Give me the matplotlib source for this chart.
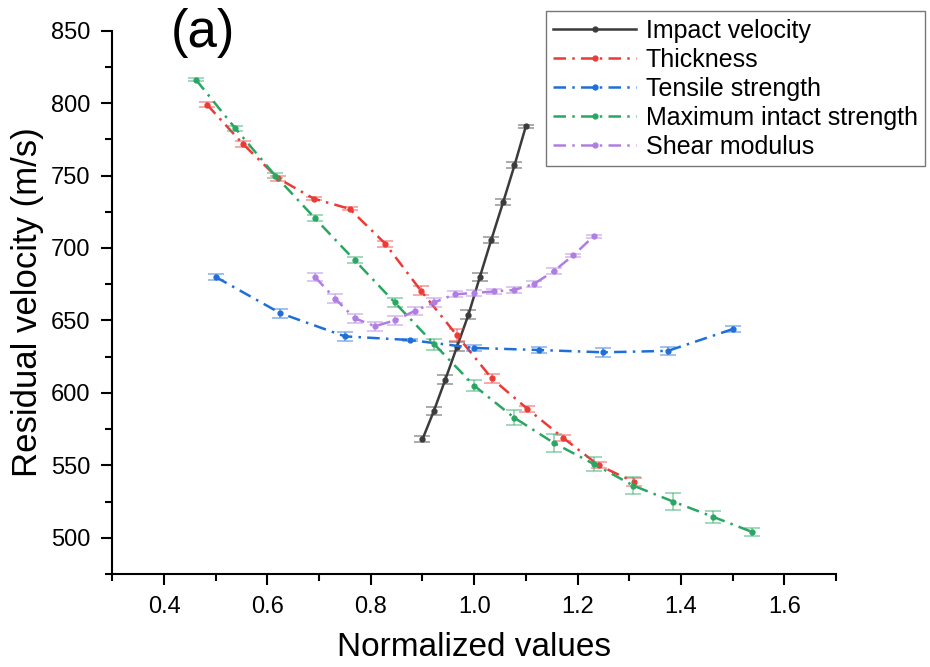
import numpy as np
import matplotlib.pyplot as plt
from matplotlib.ticker import MultipleLocator

plt.rcParams['font.family'] = ['Liberation Sans', 'DejaVu Sans']

# Impact velocity
x_imp = [0.9, 0.922, 0.944, 0.967, 0.989, 1.011, 1.033, 1.056, 1.078, 1.1]
y_imp = [568, 587.5, 609, 632, 654, 680, 705.5, 731.5, 757, 784]
e_imp = [2, 3, 3, 3, 3, 3, 2, 2, 2, 1]

# Thickness
x_thk = [0.483, 0.552, 0.621, 0.690, 0.759, 0.828, 0.897, 0.966, 1.034, 1.103, 1.172, 1.241, 1.310]
y_thk = [799, 772, 748, 734, 727, 703, 670.5, 640, 610, 589, 569, 550, 538.5]
e_thk = [2, 2, 2, 1, 1, 2, 3, 4, 3, 2, 2, 2, 3]

# Tensile strength
x_ten = [0.5, 0.625, 0.75, 0.875, 1.0, 1.125, 1.25, 1.375, 1.5]
y_ten = [680, 655, 639, 636.5, 631, 629.6, 628, 629, 644]
e_ten = [2, 3, 3, 1, 2, 2, 3, 3, 2]

# Maximum intact strength
x_mis = [0.462, 0.538, 0.615, 0.692, 0.769, 0.846, 0.923, 1.0, 1.077, 1.154, 1.231, 1.308, 1.385, 1.462, 1.538]
y_mis = [816, 782.5, 750, 720.5, 691.5, 662.5, 633.5, 605, 583, 565.5, 551, 536, 525, 514.5, 504]
e_mis = [1, 2, 2, 2, 2, 3, 4, 4, 5, 6, 5, 6, 6, 4, 3]

# Shear modulus
x_shr = [0.692, 0.731, 0.769, 0.808, 0.846, 0.885, 0.923, 0.962, 1.0, 1.038, 1.077, 1.115, 1.154, 1.192, 1.231]
y_shr = [680, 665, 651.5, 646, 650, 656.5, 662.5, 668, 669, 670, 671, 675, 684, 695, 708]
e_shr = [3, 3, 3, 3, 3, 3, 3, 2, 2, 2, 2, 2, 2, 1, 1]

x_ticks = [0.4, 0.6, 0.8, 1.0, 1.2, 1.4, 1.6]
x_ticklabels = ['0.4', '0.6', '0.8', '1.0', '1.2', '1.4', '1.6']

dashdot = (0, (5, 2.5, 1, 2.5))
series = [
    (x_imp, y_imp, e_imp, '#3b3b3b', '-', 'Impact velocity'),
    (x_thk, y_thk, e_thk, '#ec3b36', dashdot, 'Thickness'),
    (x_ten, y_ten, e_ten, '#1f6fd8', dashdot, 'Tensile strength'),
    (x_mis, y_mis, e_mis, '#2aa663', dashdot, 'Maximum intact strength'),
    (x_shr, y_shr, e_shr, '#b07ee2', dashdot, 'Shear modulus'),
]

fig = plt.figure(figsize=(9.3, 6.67), dpi=100)
ax = fig.add_axes([0.1208, 0.1394, 0.7781, 0.8147])

for x, y, e, c, ls, lab in series:
    ax.errorbar(x, y, yerr=e, fmt='none', ecolor=c, alpha=0.5,
                elinewidth=1.2, capsize=6, capthick=1.2)
    ax.plot(x, y, color=c, linestyle=ls, linewidth=1.8,
            marker='o', markersize=3.5, label=lab)

ax.set_xlim(0.3, 1.7)
ax.set_ylim(475, 850)
ax.xaxis.set_minor_locator(MultipleLocator(0.1))
ax.yaxis.set_major_locator(MultipleLocator(50))
ax.yaxis.set_minor_locator(MultipleLocator(25))
ax.set_xticks(x_ticks)
ax.set_xticklabels(x_ticklabels, fontsize=17)

for s in ['top', 'right']:
    ax.spines[s].set_visible(False)
for s in ['left', 'bottom']:
    ax.spines[s].set_linewidth(1.5)
ax.tick_params(which='major', direction='out', length=8, width=1.5, pad=8)
ax.tick_params(axis='y', labelsize=17)
ax.tick_params(which='minor', direction='out', length=5, width=1.5)

ax.set_xlabel('Normalized values', fontsize=24, labelpad=10)
ax.set_ylabel('Residual velocity (m/s)', fontsize=25, labelpad=5)

fig.text(0.218, 0.95, '(a)', fontsize=38, ha='center', va='center')

leg = ax.legend(loc='upper right', bbox_to_anchor=(0.995, 0.983),
                bbox_transform=fig.transFigure, fontsize=18,
                frameon=True, fancybox=False, edgecolor='#555555',
                handlelength=3.3, handletextpad=0.4, labelspacing=0.2,
                borderpad=0.3, borderaxespad=0)
leg.get_frame().set_linewidth(1.0)

fig.savefig('out.png', dpi=100)
